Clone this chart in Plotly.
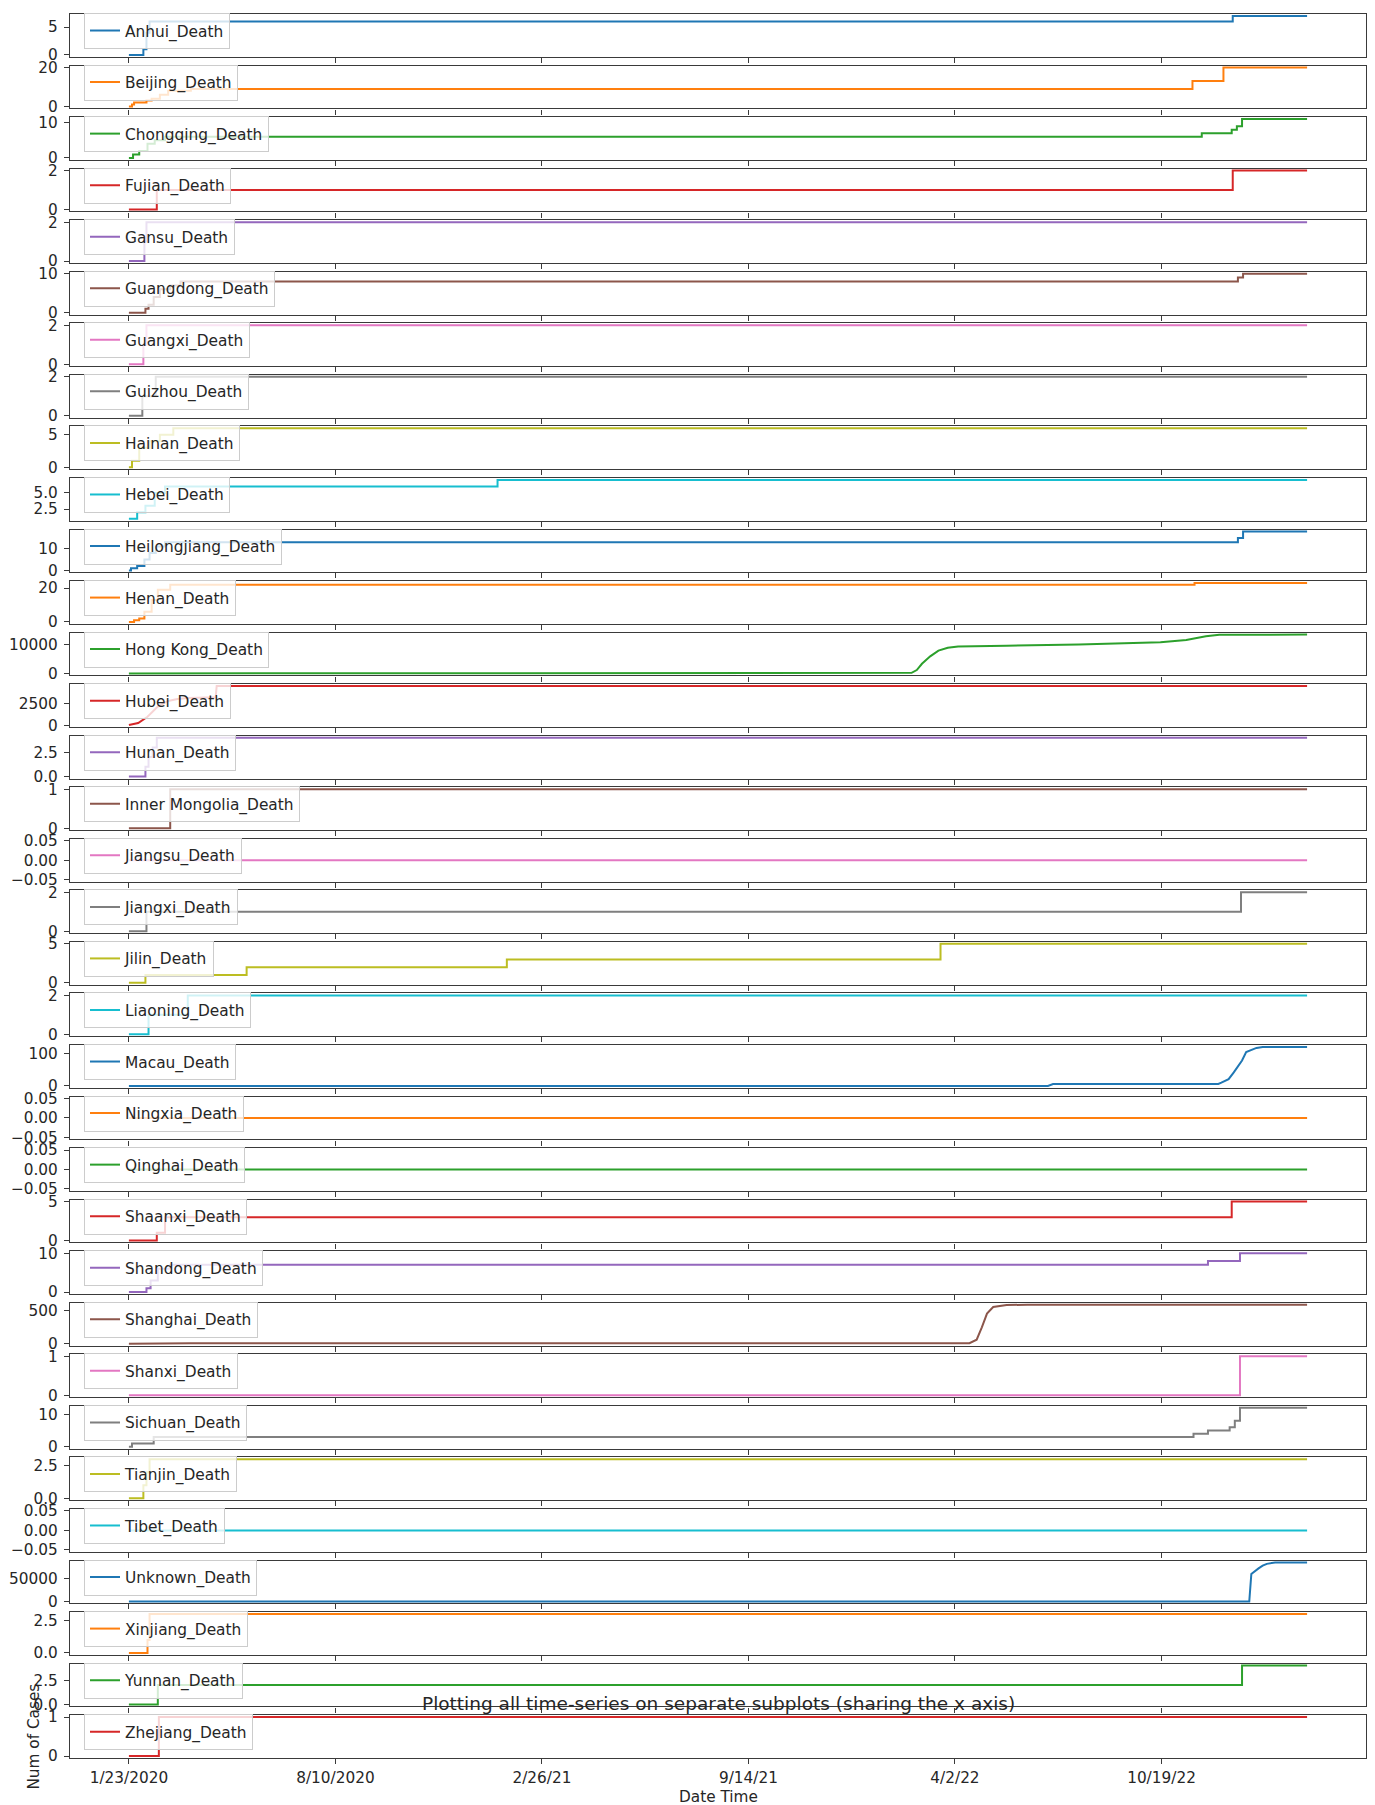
import pandas as pd
import plotly.graph_objects as go
from plotly.subplots import make_subplots

START_DATE = "2020-01-23"
END_DAY = 1141  # 2023-03-09

PROVINCES = ["Anhui", "Beijing", "Chongqing", "Fujian", "Gansu", "Guangdong", "Guangxi",
             "Guizhou", "Hainan", "Hebei", "Heilongjiang", "Henan", "Hong Kong", "Hubei",
             "Hunan", "Inner Mongolia", "Jiangsu", "Jiangxi", "Jilin", "Liaoning", "Macau",
             "Ningxia", "Qinghai", "Shaanxi", "Shandong", "Shanghai", "Shanxi", "Sichuan",
             "Tianjin", "Tibet", "Unknown", "Xinjiang", "Yunnan", "Zhejiang"]

# cumulative deaths: change-point days (offset from START_DATE) and values
anhui_days = [0, 14, 17, 20, 1069, END_DAY]
anhui_vals = [0, 1, 4, 6, 7, 7]
beijing_days = [0, 3, 5, 17, 22, 30, 38, 60, 1030, 1060, END_DAY]
beijing_vals = [0, 1, 2, 3, 4, 6, 8, 9, 13, 20, 20]
chongqing_days = [0, 4, 10, 18, 25, 35, 1039, 1068, 1073, 1078, END_DAY]
chongqing_vals = [0, 1, 2, 4, 5, 6, 7, 8, 9, 11, 11]
fujian_days = [0, 27, 1069, END_DAY]
fujian_vals = [0, 1, 2, 2]
gansu_days = [0, 15, 17, END_DAY]
gansu_vals = [0, 1, 2, 2]
guangdong_days = [0, 16, 19, 24, 30, 40, 50, 1074, 1079, END_DAY]
guangdong_vals = [0, 1, 2, 4, 6, 7, 8, 9, 10, 10]
guangxi_days = [0, 14, 17, END_DAY]
guangxi_vals = [0, 1, 2, 2]
guizhou_days = [0, 13, 26, END_DAY]
guizhou_vals = [0, 1, 2, 2]
hainan_days = [0, 3, 10, 20, 30, 43, END_DAY]
hainan_vals = [0, 1, 3, 4, 5, 6, 6]
hebei_days = [0, 8, 16, 25, 35, 357, END_DAY]
hebei_vals = [1, 2, 3, 5, 6, 7, 7]
heilongjiang_days = [0, 2, 8, 15, 20, 26, 35, 1074, 1079, END_DAY]
heilongjiang_vals = [0, 1, 2, 5, 8, 11, 13, 15, 18, 18]
henan_days = [0, 5, 10, 15, 22, 28, 40, 1032, END_DAY]
henan_vals = [0, 1, 2, 6, 13, 19, 22, 23, 23]
hongkong_days = [0, 60, 180, 300, 450, 745, 758, 763, 768, 776, 784, 793, 803, 850, 920,
                 999, 1024, 1043, 1056, END_DAY]
hongkong_vals = [0, 4, 100, 150, 210, 213, 250, 1200, 3400, 6000, 8000, 9000, 9400, 9700,
                 10100, 10900, 11700, 13000, 13500, 13600]
hubei_days = [0, 9, 18, 28, 38, 47, 57, 69, 84, 85, END_DAY]
hubei_vals = [17, 249, 974, 2144, 2803, 3024, 3133, 3199, 3222, 4512, 4512]
hunan_days = [0, 16, 19, 23, 27, END_DAY]
hunan_vals = [0, 1, 2, 3, 4, 4]
innermongolia_days = [0, 40, END_DAY]
innermongolia_vals = [0, 1, 1]
jiangsu_days = [0, END_DAY]
jiangsu_vals = [0, 0]
jiangxi_days = [0, 17, 1077, END_DAY]
jiangxi_vals = [0, 1, 2, 2]
jilin_days = [0, 16, 114, 366, 786, END_DAY]
jilin_vals = [0, 1, 2, 3, 5, 5]
liaoning_days = [0, 19, 57, END_DAY]
liaoning_vals = [0, 1, 2, 2]
macau_days = [0, 890, 895, 1055, 1058, 1065, 1070, 1078, 1082, 1087, 1092, 1098, END_DAY]
macau_vals = [0, 0, 6, 6, 10, 21, 42, 79, 105, 111, 118, 121, 121]
ningxia_days = [0, END_DAY]
ningxia_vals = [0, 0]
qinghai_days = [0, END_DAY]
qinghai_vals = [0, 0]
shaanxi_days = [0, 27, 35, 1068, END_DAY]
shaanxi_vals = [0, 1, 3, 5, 5]
shandong_days = [0, 17, 21, 28, 40, 1045, 1076, END_DAY]
shandong_vals = [0, 1, 3, 6, 7, 8, 10, 10]
shanghai_days = [0, 60, 814, 821, 826, 831, 837, 850, 870, END_DAY]
shanghai_vals = [0, 7, 7, 60, 250, 460, 560, 590, 595, 595]
shanxi_days = [0, 1076, END_DAY]
shanxi_vals = [0, 1, 1]
sichuan_days = [0, 3, 24, 1031, 1045, 1066, 1071, 1076, END_DAY]
sichuan_vals = [0, 1, 3, 4, 5, 6, 8, 12, 12]
tianjin_days = [0, 14, 17, 20, END_DAY]
tianjin_vals = [0, 1, 2, 3, 3]
tibet_days = [0, END_DAY]
tibet_vals = [0, 0]
unknown_days = [0, 1085, 1087, 1090, 1094, 1098, 1102, 1110, END_DAY]
unknown_vals = [0, 0, 60000, 66000, 72000, 78000, 82000, 85000, 85000]
xinjiang_days = [0, 18, 20, END_DAY]
xinjiang_vals = [0, 1, 3, 3]
yunnan_days = [0, 28, 1078, END_DAY]
yunnan_vals = [0, 2, 4, 4]
zhejiang_days = [0, 29, END_DAY]
zhejiang_vals = [0, 1, 1]

SMOOTH = ["Hong Kong", "Hubei", "Macau", "Shanghai", "Unknown"]

# y tick labels per subplot
Y_TICKS = {
    "Anhui": ["0", "5"], "Beijing": ["0", "20"], "Chongqing": ["0", "10"], "Fujian": ["0", "2"],
    "Gansu": ["0", "2"], "Guangdong": ["0", "10"], "Guangxi": ["0", "2"], "Guizhou": ["0", "2"],
    "Hainan": ["0", "5"], "Hebei": ["2.5", "5.0"], "Heilongjiang": ["0", "10"],
    "Henan": ["0", "20"], "Hong Kong": ["0", "10000"], "Hubei": ["0", "2500"],
    "Hunan": ["0.0", "2.5"], "Inner Mongolia": ["0", "1"], "Jiangsu": ["−0.05", "0.00", "0.05"],
    "Jiangxi": ["0", "2"], "Jilin": ["0", "5"], "Liaoning": ["0", "2"], "Macau": ["0", "100"],
    "Ningxia": ["−0.05", "0.00", "0.05"], "Qinghai": ["−0.05", "0.00", "0.05"],
    "Shaanxi": ["0", "5"], "Shandong": ["0", "10"], "Shanghai": ["0", "500"],
    "Shanxi": ["0", "1"], "Sichuan": ["0", "10"], "Tianjin": ["0.0", "2.5"],
    "Tibet": ["−0.05", "0.00", "0.05"], "Unknown": ["0", "50000"], "Xinjiang": ["0.0", "2.5"],
    "Yunnan": ["0.0", "2.5"], "Zhejiang": ["0", "1"],
}

X_TICK_DAYS = [0, 200, 400, 600, 800, 1000]
X_TICK_LABELS = ["1/23/2020", "8/10/2020", "2/26/21", "9/14/21", "4/2/22", "10/19/22"]

TAB10 = ["#1f77b4", "#ff7f0e", "#2ca02c", "#d62728", "#9467bd",
         "#8c564b", "#e377c2", "#7f7f7f", "#bcbd22", "#17becf"]

DATA_LISTS = [
    (anhui_days, anhui_vals), (beijing_days, beijing_vals), (chongqing_days, chongqing_vals),
    (fujian_days, fujian_vals), (gansu_days, gansu_vals), (guangdong_days, guangdong_vals),
    (guangxi_days, guangxi_vals), (guizhou_days, guizhou_vals), (hainan_days, hainan_vals),
    (hebei_days, hebei_vals), (heilongjiang_days, heilongjiang_vals), (henan_days, henan_vals),
    (hongkong_days, hongkong_vals), (hubei_days, hubei_vals), (hunan_days, hunan_vals),
    (innermongolia_days, innermongolia_vals), (jiangsu_days, jiangsu_vals),
    (jiangxi_days, jiangxi_vals), (jilin_days, jilin_vals), (liaoning_days, liaoning_vals),
    (macau_days, macau_vals), (ningxia_days, ningxia_vals), (qinghai_days, qinghai_vals),
    (shaanxi_days, shaanxi_vals), (shandong_days, shandong_vals),
    (shanghai_days, shanghai_vals), (shanxi_days, shanxi_vals), (sichuan_days, sichuan_vals),
    (tianjin_days, tianjin_vals), (tibet_days, tibet_vals), (unknown_days, unknown_vals),
    (xinjiang_days, xinjiang_vals), (yunnan_days, yunnan_vals), (zhejiang_days, zhejiang_vals),
]

# ---------------- figure ----------------
W, H = 1375, 1805
ML, MR, MT, MB = 70, 9, 7, 47
PW, PH = W - ML - MR, H - MT - MB
N = len(PROVINCES)
GAP_PX = 8.76

FONT = "DejaVu Sans"
TXT = "#262626"
SPINE = "#3a3a3a"
TICK_SIZE = 15.3

fig = make_subplots(rows=N, cols=1, shared_xaxes=True, vertical_spacing=GAP_PX / PH)

start = pd.Timestamp(START_DATE)
def to_dates(days):
    return [start + pd.Timedelta(days=int(d)) for d in days]

x_range = [start - pd.Timedelta(days=END_DAY * 0.05), start + pd.Timedelta(days=END_DAY * 1.05)]

for i, (name, (days, vals)) in enumerate(zip(PROVINCES, DATA_LISTS)):
    row = i + 1
    leg = "legend" if i == 0 else f"legend{i + 1}"
    fig.add_trace(go.Scatter(
        x=to_dates(days), y=vals, mode="lines",
        name=f"{name}_Death",
        line=dict(color=TAB10[i % 10], width=2,
                  shape="linear" if name in SMOOTH else "hv"),
        legend=leg, showlegend=True,
    ), row=row, col=1)

    lo, hi = min(vals), max(vals)
    if hi == lo:
        rng = [lo - 0.055, lo + 0.055]
    else:
        pad = 0.05 * (hi - lo)
        rng = [lo - pad, hi + pad]
    labels = Y_TICKS[name]
    tvals = [float(t.replace("−", "-")) for t in labels]
    fig.update_yaxes(range=rng, tickmode="array", tickvals=tvals, ticktext=labels,
                     row=row, col=1)

fig.update_yaxes(showgrid=False, zeroline=False, showline=True, mirror=True,
                 linecolor=SPINE, linewidth=1.3, ticks="outside", ticklen=5, tickwidth=1.2,
                 tickcolor=SPINE, tickfont=dict(family=FONT, size=TICK_SIZE, color=TXT),
                 ticklabelstandoff=3)
fig.update_xaxes(showgrid=False, zeroline=False, showline=True, mirror=True,
                 linecolor=SPINE, linewidth=1.3, ticks="outside", ticklen=5, tickwidth=1.2,
                 tickcolor=SPINE, range=x_range, tickmode="array",
                 tickvals=to_dates(X_TICK_DAYS), ticktext=X_TICK_LABELS,
                 tickfont=dict(family=FONT, size=TICK_SIZE, color=TXT), showticklabels=False)
fig.update_xaxes(showticklabels=True, row=N, col=1)

layout_legends = {}
for i in range(N):
    ax = fig.layout["yaxis" if i == 0 else f"yaxis{i + 1}"]
    top = ax.domain[1]
    key = "legend" if i == 0 else f"legend{i + 1}"
    layout_legends[key] = dict(
        x=14 / PW, xanchor="left", y=top + 1 / PH, yanchor="top",
        bgcolor="rgba(255,255,255,0.8)", bordercolor="#cccccc", borderwidth=1,
        font=dict(family=FONT, size=15.4, color=TXT), itemwidth=30,
        tracegroupgap=0,
    )
fig.update_layout(**layout_legends)

last_dom = fig.layout[f"yaxis{N}"].domain
fig.add_annotation(text="Plotting all time-series on separate subplots (sharing the x axis)",
                   xref="paper", yref="paper", x=0.5, y=last_dom[1] + 12 / PH,
                   xanchor="center", yanchor="middle", showarrow=False,
                   font=dict(family=FONT, size=18.5, color=TXT))
fig.add_annotation(text="Num of Cases", xref="paper", yref="paper",
                   x=-36 / PW, y=(last_dom[0] + last_dom[1]) / 2, textangle=-90,
                   xanchor="center", yanchor="middle", showarrow=False,
                   font=dict(family=FONT, size=TICK_SIZE, color=TXT))
fig.add_annotation(text="Date Time", xref="paper", yref="paper",
                   x=0.5, y=-(1797 - MT - PH) / PH, xanchor="center", yanchor="middle",
                   showarrow=False, font=dict(family=FONT, size=TICK_SIZE, color=TXT))

fig.update_layout(width=W, height=H, margin=dict(l=ML, r=MR, t=MT, b=MB),
                  paper_bgcolor="white", plot_bgcolor="white",
                  font=dict(family=FONT, color=TXT))

fig.write_html("out.html", config={"displayModeBar": False},
               post_script="document.body.style.margin='0';")
